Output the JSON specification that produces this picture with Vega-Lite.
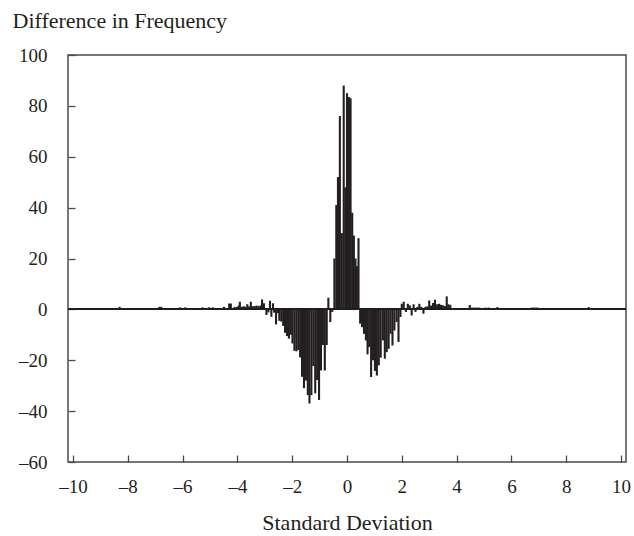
{
  "$schema": "https://vega.github.io/schema/vega-lite/v6.json",
  "width": 558,
  "height": 407,
  "autosize": "none",
  "padding": {"left": 68, "top": 55, "right": 8, "bottom": 74},
  "background": "white",
  "config": {
    "view": {"stroke": "#4a4a4a", "strokeWidth": 1.5},
    "font": "Liberation Serif"
  },
  "data": {"values": [
    {"sd": -8.3, "diff": 1}, {"sd": -6.85, "diff": 1}, {"sd": -6.78, "diff": 1}, {"sd": -6.1, "diff": 0.8}, {"sd": -5.9, "diff": 0.8},
    {"sd": -5.27, "diff": 0.8}, {"sd": -5.03, "diff": 0.8}, {"sd": -4.9, "diff": 0.8}, {"sd": -4.49, "diff": 1}, {"sd": -4.3, "diff": 2.3},
    {"sd": -4.24, "diff": 2.3}, {"sd": -4.1, "diff": 1}, {"sd": -4.02, "diff": 1}, {"sd": -3.95, "diff": 1.5}, {"sd": -3.91, "diff": 3},
    {"sd": -3.84, "diff": 1}, {"sd": -3.77, "diff": 1.2}, {"sd": -3.72, "diff": 1}, {"sd": -3.64, "diff": 2}, {"sd": -3.57, "diff": 1.2},
    {"sd": -3.51, "diff": 3}, {"sd": -3.44, "diff": 1.3}, {"sd": -3.37, "diff": 1.3}, {"sd": -3.3, "diff": 1.5}, {"sd": -3.23, "diff": 1.3},
    {"sd": -3.16, "diff": 1.5}, {"sd": -3.1, "diff": 3.9}, {"sd": -3.03, "diff": 2.4}, {"sd": -2.94, "diff": -2.2}, {"sd": -2.87, "diff": -1.2},
    {"sd": -2.81, "diff": 3.4}, {"sd": -2.76, "diff": -2.9}, {"sd": -2.7, "diff": 2.4}, {"sd": -2.66, "diff": -1.3}, {"sd": -2.59, "diff": -5.9},
    {"sd": -2.52, "diff": -1.5}, {"sd": -2.47, "diff": -4.5}, {"sd": -2.4, "diff": -4.8}, {"sd": -2.33, "diff": -6.5}, {"sd": -2.26, "diff": -9.2},
    {"sd": -2.19, "diff": -10.5}, {"sd": -2.12, "diff": -11.5}, {"sd": -2.05, "diff": -10}, {"sd": -1.99, "diff": -13.4}, {"sd": -1.92, "diff": -16.3},
    {"sd": -1.85, "diff": -16.5}, {"sd": -1.78, "diff": -16}, {"sd": -1.71, "diff": -18.9}, {"sd": -1.64, "diff": -26.5}, {"sd": -1.57, "diff": -31},
    {"sd": -1.5, "diff": -28}, {"sd": -1.43, "diff": -33.7}, {"sd": -1.37, "diff": -37}, {"sd": -1.3, "diff": -33.7}, {"sd": -1.23, "diff": -22.3},
    {"sd": -1.16, "diff": -33}, {"sd": -1.09, "diff": -27.8}, {"sd": -1.02, "diff": -35.6}, {"sd": -0.95, "diff": -24}, {"sd": -0.88, "diff": -14},
    {"sd": -0.81, "diff": -24}, {"sd": -0.74, "diff": -14}, {"sd": -0.68, "diff": 4.6}, {"sd": -0.61, "diff": -5}, {"sd": -0.54, "diff": -1},
    {"sd": -0.46, "diff": 20}, {"sd": -0.39, "diff": 41}, {"sd": -0.33, "diff": 52}, {"sd": -0.26, "diff": 76}, {"sd": -0.19, "diff": 30},
    {"sd": -0.12, "diff": 88}, {"sd": -0.06, "diff": 48}, {"sd": 0.0, "diff": 85}, {"sd": 0.07, "diff": 83.5}, {"sd": 0.13, "diff": 83},
    {"sd": 0.19, "diff": 38}, {"sd": 0.25, "diff": 29}, {"sd": 0.31, "diff": 20}, {"sd": 0.36, "diff": 17}, {"sd": 0.42, "diff": 28},
    {"sd": 0.48, "diff": -5.6}, {"sd": 0.55, "diff": -7}, {"sd": 0.62, "diff": -9.6}, {"sd": 0.69, "diff": -12.2}, {"sd": 0.75, "diff": -17.7},
    {"sd": 0.81, "diff": -14.8}, {"sd": 0.88, "diff": -26.6}, {"sd": 0.95, "diff": -20}, {"sd": 1.02, "diff": -24.2}, {"sd": 1.09, "diff": -26},
    {"sd": 1.16, "diff": -22}, {"sd": 1.23, "diff": -19}, {"sd": 1.31, "diff": -12.2}, {"sd": 1.38, "diff": -19.4}, {"sd": 1.45, "diff": -16.8},
    {"sd": 1.52, "diff": -15.5}, {"sd": 1.59, "diff": -9.6}, {"sd": 1.66, "diff": -14.2}, {"sd": 1.73, "diff": -8.3}, {"sd": 1.81, "diff": -5},
    {"sd": 1.88, "diff": -12.8}, {"sd": 1.95, "diff": -3}, {"sd": 2.0, "diff": 2.2}, {"sd": 2.07, "diff": 3}, {"sd": 2.15, "diff": -1},
    {"sd": 2.22, "diff": 2.2}, {"sd": 2.29, "diff": 1.6}, {"sd": 2.36, "diff": -2.4}, {"sd": 2.43, "diff": 2}, {"sd": 2.5, "diff": -1},
    {"sd": 2.57, "diff": 1}, {"sd": 2.64, "diff": 2.2}, {"sd": 2.71, "diff": 1}, {"sd": 2.79, "diff": -1.7}, {"sd": 2.86, "diff": 1},
    {"sd": 2.93, "diff": 1.2}, {"sd": 3.0, "diff": 3.5}, {"sd": 3.07, "diff": 1.5}, {"sd": 3.14, "diff": 2.5}, {"sd": 3.21, "diff": 3.8},
    {"sd": 3.29, "diff": 2}, {"sd": 3.36, "diff": 2.2}, {"sd": 3.43, "diff": 1.8}, {"sd": 3.5, "diff": 1.6}, {"sd": 3.57, "diff": 1.3},
    {"sd": 3.64, "diff": 5.1}, {"sd": 3.7, "diff": 2}, {"sd": 3.77, "diff": 1.8}, {"sd": 3.85, "diff": 0.3}, {"sd": 3.92, "diff": 0.3},
    {"sd": 3.99, "diff": 0.3}, {"sd": 4.06, "diff": 0.3}, {"sd": 4.13, "diff": 0.3}, {"sd": 4.2, "diff": 0.3}, {"sd": 4.27, "diff": 0.3},
    {"sd": 4.34, "diff": 0.3}, {"sd": 4.41, "diff": 0.3}, {"sd": 4.48, "diff": 1.7}, {"sd": 4.55, "diff": 0.7}, {"sd": 4.62, "diff": 0.7},
    {"sd": 4.69, "diff": 0.7}, {"sd": 4.76, "diff": 0.7}, {"sd": 4.83, "diff": 0.7}, {"sd": 5.05, "diff": 0.7}, {"sd": 5.17, "diff": 0.7},
    {"sd": 5.49, "diff": 0.9}, {"sd": 6.74, "diff": 0.7}, {"sd": 6.81, "diff": 0.7}, {"sd": 6.88, "diff": 0.7}, {"sd": 6.95, "diff": 0.7},
    {"sd": 8.82, "diff": 0.9}
  ]},
  "layer": [
    {
      "mark": {"type": "bar", "size": 2.1, "color": "#231f20"},
      "encoding": {
        "x": {
          "field": "sd", "type": "quantitative",
          "scale": {"domain": [-10, 10], "nice": false},
          "axis": {
            "values": [-10, -8, -6, -4, -2, 0, 2, 4, 6, 8, 10],
            "title": "Standard Deviation",
            "titleFont": "Liberation Serif", "titleFontSize": 22, "titleFontWeight": "normal", "titleColor": "#231f20",
            "titleBaseline": "alphabetic", "titleY": 67,
            "labelFont": "Liberation Serif", "labelFontSize": 19, "labelColor": "#231f20",
            "labelExpr": "datum.value < 0 ? '–' + abs(datum.value) : '' + datum.value",
            "labelPadding": 22, "labelFlush": false,
            "tickSize": -7, "tickColor": "#4a4a4a", "tickWidth": 1.3,
            "domain": false, "grid": false
          }
        },
        "y": {
          "field": "diff", "type": "quantitative",
          "scale": {"domain": [-60, 100], "nice": false, "zero": false},
          "axis": {
            "values": [-60, -40, -20, 0, 20, 40, 60, 80, 100],
            "title": "Difference in Frequency",
            "titleFont": "Liberation Serif", "titleFontSize": 22, "titleFontWeight": "normal", "titleColor": "#231f20",
            "titleAngle": 0, "titleAlign": "left", "titleBaseline": "alphabetic",
            "titleX": -56, "titleY": -28,
            "labelFont": "Liberation Serif", "labelFontSize": 19, "labelColor": "#231f20",
            "labelExpr": "datum.value < 0 ? '–' + abs(datum.value) : '' + datum.value",
            "labelPadding": 28,
            "tickSize": -7, "tickColor": "#4a4a4a", "tickWidth": 1.3,
            "domain": false, "grid": false
          }
        }
      }
    },
    {
      "mark": {"type": "rule", "color": "#231f20", "strokeWidth": 1},
      "encoding": {"y": {"datum": 0}}
    }
  ]
}
